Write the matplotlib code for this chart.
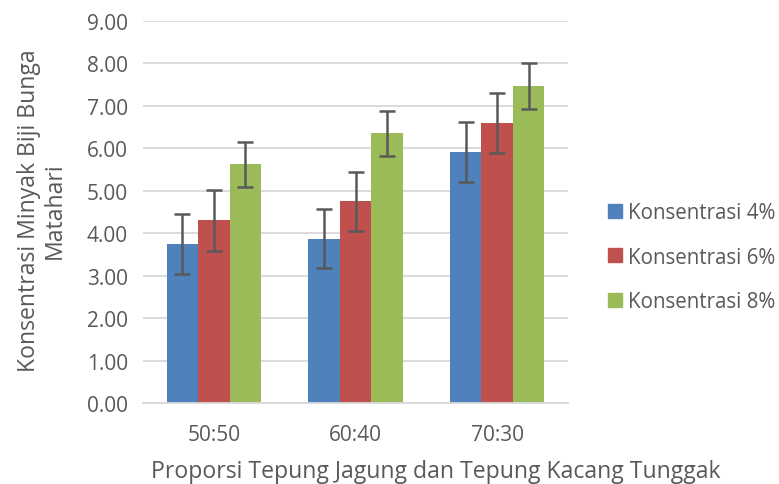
import numpy as np
import matplotlib.pyplot as plt
from matplotlib.patches import Patch

categories = ["50:50", "60:40", "70:30"]
series = ["Konsentrasi 4%", "Konsentrasi 6%", "Konsentrasi 8%"]
k4 = [3.75, 3.87, 5.91]
k6 = [4.30, 4.75, 6.60]
k8 = [5.63, 6.35, 7.46]
err4 = [0.70, 0.70, 0.70]
err6 = [0.71, 0.70, 0.71]
err8 = [0.53, 0.54, 0.54]
colors = ["#4F81BD", "#C0504D", "#9BBB59"]

plt.rcParams['font.family'] = ['Open Sans', 'DejaVu Sans']
grey = "#595959"

fig = plt.figure(figsize=(7.79, 4.85), dpi=100)
ax = fig.add_axes([143 / 779, 1 - 404 / 485, 425 / 779, 382 / 485])

x = np.arange(len(categories))
w = 0.222
vals = [k4, k6, k8]
errs = [err4, err6, err8]
for i in range(3):
	ax.bar(x + (i - 1) * w, vals[i], w, color=colors[i], zorder=2,
		yerr=errs[i], error_kw=dict(ecolor=grey, elinewidth=1.8, capsize=6, capthick=1.8))

ax.set_xlim(-0.5, 2.5)
ax.set_ylim(0, 9)
ax.set_yticks(np.arange(0, 10, 1))
ax.set_yticklabels([f"{v:.2f}" for v in range(10)])
ax.set_xticks(x)
ax.set_xticklabels(categories)
ax.yaxis.grid(True, color="#D9D9D9", linewidth=1.3, zorder=0)
ax.set_axisbelow(True)
for s in ["top", "right", "left"]:
	ax.spines[s].set_visible(False)
ax.spines["bottom"].set_color("#D9D9D9")
ax.spines["bottom"].set_linewidth(1.3)
ax.tick_params(axis="both", length=0, labelsize=15, colors=grey)
ax.tick_params(axis="x", pad=15)
ax.tick_params(axis="y", pad=11)

# x title sits right at the bottom edge, as in the source
fig.text(436 / 779, 1 - 478 / 485, "Proporsi Tepung Jagung dan Tepung Kacang Tunggak",
	ha="center", va="baseline", fontsize=16.6, color=grey)
fig.text(42 / 779, 1 - 211 / 485, "Konsentrasi Minyak Biji Bunga\nMatahari", rotation=90, ha="center", va="center",
	fontsize=16.6, color=grey, multialignment="center", linespacing=1.1)

handles = [Patch(color=c) for c in colors]
fig.legend(handles, series, loc="center left", bbox_to_anchor=(608 / 779, 1 - 258 / 485),
	frameon=False, fontsize=14.8, labelcolor=grey, handlelength=0.68, handleheight=0.68,
	handletextpad=0.3, labelspacing=1.15, borderpad=0, borderaxespad=0)

fig.savefig("out.png", dpi=100)
